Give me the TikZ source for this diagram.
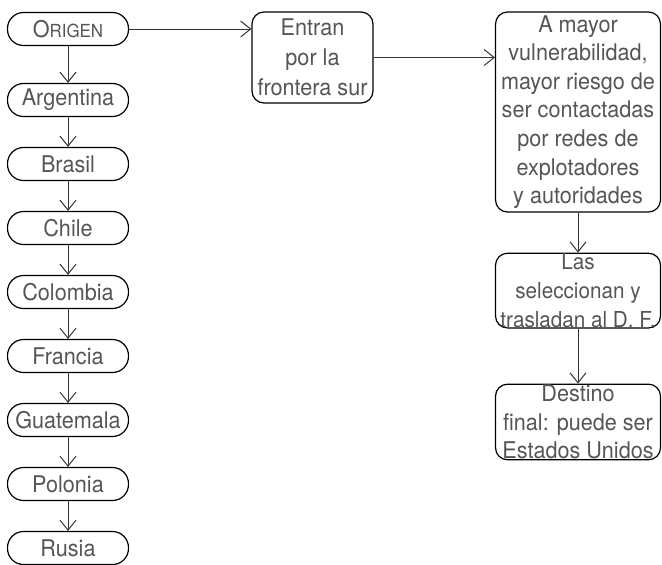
\documentclass[tikz,border=0pt]{standalone}
\usepackage{fontspec}
\setmainfont{TeX Gyre Heros}[FakeStretch=0.94]
\usepackage{tikz}
\usetikzlibrary{arrows.meta,positioning}
\definecolor{txtgray}{HTML}{555555}
\definecolor{linegray}{HTML}{333333}

\begin{document}
\begin{tikzpicture}[->,>={Straight Barb[length=5pt,width=8pt]},node distance=32pt,
                    font=\fontsize{11.5}{14.3}\selectfont,
                    every edge/.style={draw=linegray,line width=0.5pt},
                    pais/.style={draw=black,line width=0.6pt,rounded corners=8pt,
                                 minimum width=60.5pt,minimum height=16.5pt,inner sep=0pt,text=txtgray},
                    caja/.style={draw=black,line width=0.6pt,rounded corners=6pt,align=center,
                                 inner sep=0.3pt,text=txtgray}]

	\useasboundingbox (0,0) rectangle (331pt,-282pt);

  	\node[pais] (O) at (34pt,-14.5pt)		{O{\fontsize{9}{10}\selectfont RIGEN}};
  	\node[pais] (Ar) at (34pt,-50pt)		{Argentina};
  	\node[pais] (Br) [below of=Ar]		{Brasil};
  	\node[pais] (Ch) [below of=Br]		{Chile};
  	\node[pais] (Co) [below of=Ch]		{Colombia};
  	\node[pais] (Fr) [below of=Co]		{Francia};
  	\node[pais] (Gu) [below of=Fr]		{Guatemala};
  	\node[pais] (Po) [below of=Gu]		{Polonia};
  	\node[pais] (Ru) [below of=Po]		{Rusia};

	\node[caja,minimum width=60.5pt,minimum height=45.5pt,font=\fontsize{11.5}{15}\selectfont] (E) at (156.25pt,-28.75pt)
		{Entran\\por la\\frontera sur};
	\node[caja,minimum width=82.5pt,minimum height=100pt] (R) at (289pt,-56pt)
		{A mayor\\vulnerabilidad,\\mayor riesgo de\\ser contactadas\\por redes de\\explotadores\\y autoridades};
	\node[caja,minimum width=82.5pt,minimum height=33pt,font=\fontsize{11}{14.3}\selectfont] (S) [below=20pt of R]
		{Las\\seleccionan y\\trasladan al D. F.};
	\node[caja,minimum width=82.5pt,minimum height=32pt] (D) [below=27.5pt of S]
		{Destino\\final: puede ser\\Estados Unidos};

  	\path (O) edge (Ar);
  	\path (Ar) edge (Br);
  	\path (Br) edge (Ch);
  	\path (Ch) edge (Co);
  	\path (Co) edge (Fr);
  	\path (Fr) edge (Gu);
  	\path (Gu) edge (Po);
  	\path (Po) edge (Ru);

	\path (O) edge (O -| E.west);
	\path (E) edge (E -| R.west);
	\path (R) edge (S);
	\path (S) edge (D);

\end{tikzpicture}
\end{document}
